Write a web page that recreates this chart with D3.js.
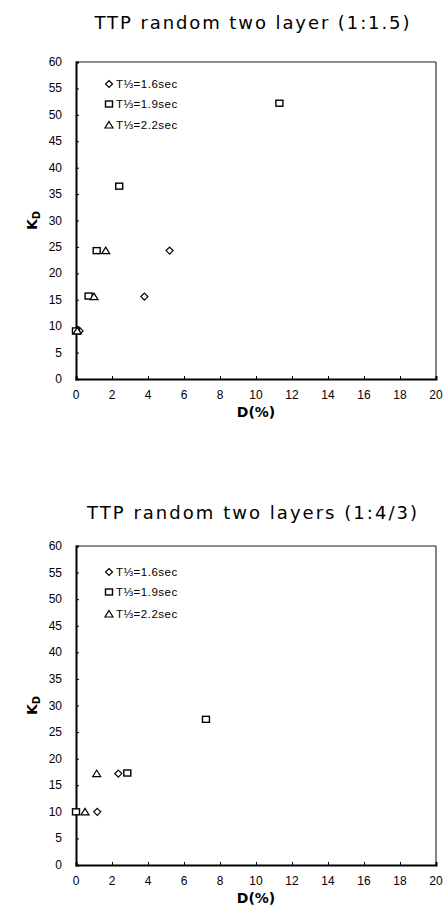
<!DOCTYPE html>
<html><head><meta charset="utf-8">
<script src="https://cdn.jsdelivr.net/npm/d3@7"></script>
<style>body{margin:0;background:#fff}svg{display:block}</style>
</head><body>
<script>
// ---- data ----
const xTicks = [0,2,4,6,8,10,12,14,16,18,20];
const yTicks = [0,5,10,15,20,25,30,35,40,45,50,55,60];
const seriesNames = ["T\u2153=1.6sec","T\u2153=1.9sec","T\u2153=2.2sec"];
const seriesShapes = ["diamond","square","triangle"];

const titleA = "TTP random two layer (1:1.5)";
const a16D = [0.2, 3.8, 5.2];   const a16K = [9.1, 15.6, 24.3];
const a19D = [0.0, 0.7, 1.15, 2.4, 11.3]; const a19K = [9.1, 15.7, 24.3, 36.5, 52.2];
const a22D = [0.07, 1.0, 1.65]; const a22K = [9.1, 15.6, 24.3];

const titleB = "TTP random two layers (1:4/3)";
const b16D = [1.18, 2.35]; const b16K = [10.0, 17.2];
const b19D = [0.0, 2.85, 7.22]; const b19K = [10.0, 17.3, 27.4];
const b22D = [0.5, 1.15]; const b22K = [10.0, 17.2];

const W = 448, H = 914;
const svg = d3.select("body").append("svg").attr("width", W).attr("height", H);

function marker(g, shape, cx, cy) {
  const s = 3.5;
  if (shape === "diamond") {
    g.append("path").attr("d", `M${cx},${cy-s}L${cx+s},${cy}L${cx},${cy+s}L${cx-s},${cy}Z`)
      .attr("fill","#fff").attr("stroke","#000").attr("stroke-width",1.2);
  } else if (shape === "square") {
    g.append("rect").attr("x",cx-3.5).attr("y",cy-3).attr("width",7).attr("height",6)
      .attr("fill","#fff").attr("stroke","#000").attr("stroke-width",1.4);
  } else {
    g.append("path").attr("d", `M${cx},${cy-3.5}L${cx+4},${cy+3}L${cx-4},${cy+3}Z`)
      .attr("fill","#fff").attr("stroke","#000").attr("stroke-width",1.2);
  }
}

function chart(cfg) {
  const {top, bottom, left, right, title, titleY, series, legendY} = cfg;
  const x = d3.scaleLinear().domain([0,20]).range([left,right]);
  const y = d3.scaleLinear().domain([0,60]).range([bottom,top]);
  const g = svg.append("g");

  g.append("text").attr("x", 252).attr("y", titleY).attr("text-anchor","middle")
    .attr("font-family","DejaVu Sans, sans-serif").attr("font-size",18)
    .attr("textLength", cfg.titleW).attr("lengthAdjust","spacing")
    .text(title);

  // frame: top & right thin
  g.append("line").attr("x1",left).attr("x2",right).attr("y1",top).attr("y2",top).attr("stroke","#222").attr("stroke-width",1.2);
  g.append("line").attr("x1",right).attr("x2",right).attr("y1",top).attr("y2",bottom).attr("stroke","#333").attr("stroke-width",1.2);

  const ya = g.append("g").attr("transform",`translate(${left},0)`)
    .call(d3.axisRight(y).tickValues(yTicks).tickSize(3).tickFormat(""));
  ya.select(".domain").attr("stroke","#000").attr("stroke-width",2);
  g.selectAll(null).data(yTicks).enter().append("text")
    .attr("x", left-14).attr("y", d=>y(d)+4).attr("text-anchor","end")
    .attr("font-family","Liberation Sans, Arial, sans-serif").attr("font-size",12)
    .text(d=>d);

  const xa = g.append("g").attr("transform",`translate(0,${bottom})`)
    .call(d3.axisTop(x).tickValues(xTicks).tickSize(3).tickFormat(""));
  xa.select(".domain").attr("stroke","#000").attr("stroke-width",2);
  g.selectAll(null).data(xTicks).enter().append("text")
    .attr("x", d=>x(d)).attr("y", bottom+20).attr("text-anchor","middle")
    .attr("font-family","Liberation Sans, Arial, sans-serif").attr("font-size",12)
    .text(d=>d);

  g.append("text").attr("x", 256).attr("y", bottom+38).attr("text-anchor","middle")
    .attr("font-family","DejaVu Sans, sans-serif").attr("font-size",14).attr("font-weight","bold")
    .text("D(%)");

  const yl = g.append("text").attr("transform",`translate(37,${(top+bottom)/2}) rotate(-90)`)
    .attr("text-anchor","middle").attr("font-family","DejaVu Sans, sans-serif")
    .attr("font-size",14).attr("font-weight","bold");
  yl.append("tspan").text("K");
  yl.append("tspan").attr("font-size",10).attr("dy",3).text("D");

  series.forEach((s,i) => {
    s.D.forEach((d,j) => marker(g, seriesShapes[i], x(d), y(s.K[j])));
    const ly = legendY[i];
    marker(g, seriesShapes[i], left+33, ly);
    g.append("text").attr("x", left+40).attr("y", ly+4)
      .attr("font-family","Liberation Sans, Arial, sans-serif").attr("font-size",11.5)
      .attr("letter-spacing",0.5)
      .text(seriesNames[i]);
  });
}

chart({top:62, bottom:379, left:76, right:436, title:titleA, titleY:29, titleW:315,
  legendY:[84,104,125],
  series:[{D:a16D,K:a16K},{D:a19D,K:a19K},{D:a22D,K:a22K}]});
chart({top:546, bottom:865, left:76, right:436, title:titleB, titleY:519, titleW:330,
  legendY:[572,592,614],
  series:[{D:b16D,K:b16K},{D:b19D,K:b19K},{D:b22D,K:b22K}]});
</script>
</body></html>
